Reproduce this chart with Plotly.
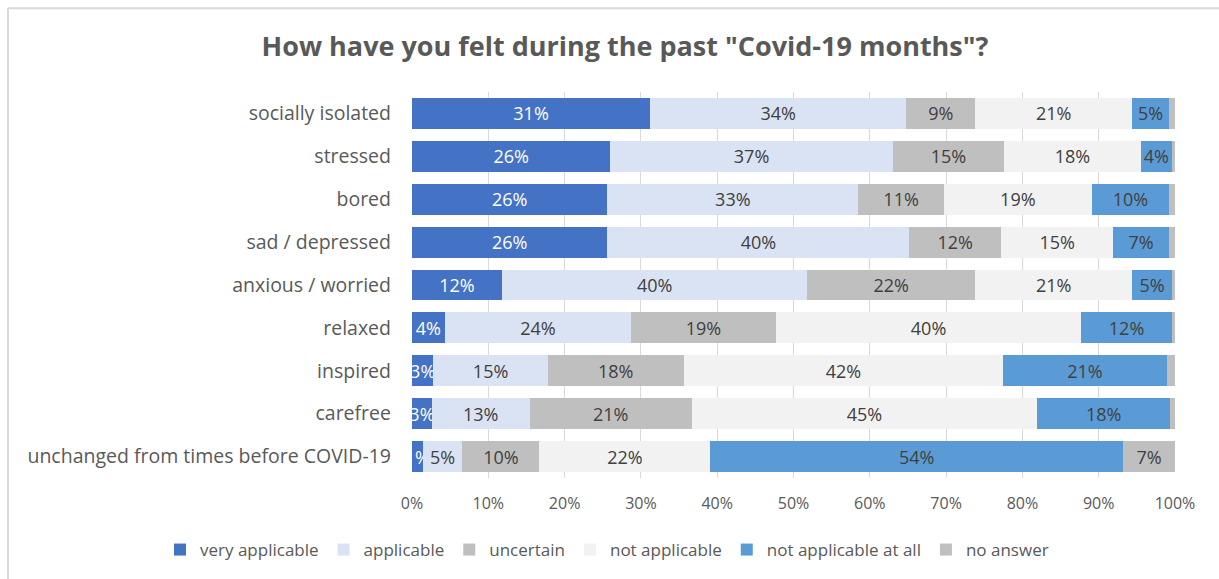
import plotly.graph_objects as go

categories = [
    "socially isolated", "stressed", "bored", "sad / depressed",
    "anxious / worried", "relaxed", "inspired", "carefree",
    "unchanged from times before COVID-19",
]
series_names = ["very applicable", "applicable", "uncertain",
                "not applicable", "not applicable at all", "no answer"]

very_applicable = [31.2, 26.0, 25.6, 25.6, 11.8, 4.3, 2.8, 2.6, 1.4]
applicable = [33.6, 37.0, 32.9, 39.6, 40.0, 24.4, 15.0, 12.8, 5.2]
uncertain = [9.0, 14.6, 11.2, 12.0, 22.0, 19.0, 17.8, 21.3, 10.1]
not_applicable = [20.6, 17.9, 19.4, 14.7, 20.6, 40.0, 41.9, 45.2, 22.4]
not_applicable_at_all = [4.8, 4.1, 10.1, 7.3, 5.2, 11.9, 21.4, 17.5, 54.1]
no_answer = [0.8, 0.4, 0.8, 0.8, 0.4, 0.4, 1.1, 0.6, 6.8]

x_ticks = [0, 10, 20, 30, 40, 50, 60, 70, 80, 90, 100]
x_tick_labels = [f"{t}%" for t in x_ticks]

all_series = [very_applicable, applicable, uncertain, not_applicable,
              not_applicable_at_all, no_answer]
colors = ["#4472C4", "#DAE3F3", "#BFBFBF", "#F2F2F2", "#5B9BD5", "#BFBFBF"]
text_colors = ["#FFFFFF", "#404040", "#404040", "#404040", "#404040", "#404040"]

FONT = "Open Sans"
fig = go.Figure()
for name, vals, col, tcol in zip(series_names, all_series, colors, text_colors):
    if name == "no answer":
        texts = [f"{round(v)}%" if v >= 2 else "" for v in vals]
    else:
        texts = [f"{round(v)}%" for v in vals]
    fig.add_trace(go.Bar(
        y=categories, x=vals, name=name, orientation="h",
        marker=dict(color=col, line=dict(width=0)),
        text=texts, textposition="inside", insidetextanchor="middle",
        textangle=0, constraintext="none",
        textfont=dict(family=FONT, size=18, color=tcol),
        hoverinfo="skip",
    ))

L, R, T, B = 412, 44, 92, 100
W, H = 1219, 579
pw, ph = W - L - R, H - T - B

def px_x(x):
    return (x - L) / pw

def px_y(y):
    return (H - B - y) / ph

fig.update_layout(
    width=W, height=H,
    barmode="stack", bargap=0.28,
    margin=dict(l=L, r=R, t=T, b=B),
    paper_bgcolor="white", plot_bgcolor="white",
    font=dict(family=FONT, color="#595959"),
    title=dict(text='<b>How have you felt during the past "Covid-19 months"?</b>',
               x=625 / W, xref="container", xanchor="center",
               y=1 - 47 / H, yref="container", yanchor="middle",
               font=dict(family=FONT, size=27, color="#595959")),
    xaxis=dict(range=[0, 100], tickvals=x_ticks, ticktext=x_tick_labels,
               showgrid=True, gridcolor="#D9D9D9", gridwidth=1,
               zeroline=False, showline=False, ticks="",
               ticklabelstandoff=14,
               tickfont=dict(family=FONT, size=16, color="#595959")),
    yaxis=dict(categoryorder="array", categoryarray=categories,
               autorange="reversed", showgrid=False, ticks="",
               ticklabelstandoff=20,
               tickfont=dict(family=FONT, size=19.5, color="#595959")),
    legend=dict(orientation="h", xref="paper", x=px_x(160),
                xanchor="left", yref="paper", y=px_y(550),
                yanchor="middle", traceorder="normal",
                font=dict(family=FONT, size=17, color="#595959"),
                itemwidth=30),
    uniformtext=dict(minsize=18, mode="show"),
    showlegend=True,
)

fig.add_shape(type="line", xref="paper", yref="paper",
              x0=px_x(8), x1=px_x(W + 5), y0=px_y(8), y1=px_y(8),
              line=dict(color="#D9D9D9", width=2))
fig.add_shape(type="line", xref="paper", yref="paper",
              x0=px_x(8), x1=px_x(8), y0=px_y(8), y1=px_y(H + 5),
              line=dict(color="#D9D9D9", width=2))

fig.write_html("out.html")
